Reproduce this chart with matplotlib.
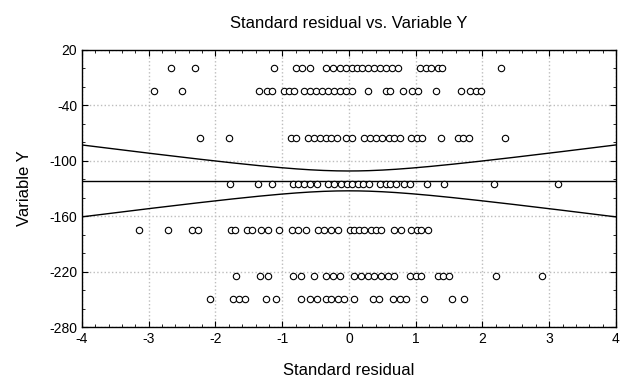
import numpy as np
import matplotlib
matplotlib.use("Agg")
import matplotlib.pyplot as plt
from matplotlib.ticker import MultipleLocator

plt.rcParams["font.family"] = ["Liberation Sans", "DejaVu Sans"]
plt.rcParams["axes.unicode_minus"] = False

y_levels = [0, -25, -75, -125, -175, -225, -250]
resid_0 = [-2.66, -2.31, -1.13, -0.79, -0.70, -0.59, -0.34, -0.24, -0.14, -0.05,
           0.04, 0.12, 0.20, 0.29, 0.38, 0.47, 0.56, 0.65, 0.73, 1.06, 1.15,
           1.23, 1.33, 1.40, 2.28]
resid_25 = [-2.92, -2.50, -1.35, -1.23, -1.15, -0.98, -0.90, -0.83, -0.67, -0.59,
            -0.49, -0.40, -0.32, -0.23, -0.14, -0.05, 0.04, 0.28, 0.55, 0.62,
            0.81, 0.94, 1.03, 1.31, 1.68, 1.82, 1.90, 1.98]
resid_75 = [-2.23, -1.80, -0.87, -0.79, -0.62, -0.52, -0.44, -0.35, -0.27, -0.18,
            -0.04, 0.05, 0.22, 0.31, 0.41, 0.50, 0.60, 0.68, 0.77, 0.93, 1.02,
            1.10, 1.38, 1.63, 1.71, 1.80, 2.34]
resid_125 = [-1.78, -1.37, -1.16, -0.84, -0.76, -0.68, -0.59, -0.48, -0.32, -0.22,
             -0.12, -0.03, 0.05, 0.13, 0.21, 0.30, 0.46, 0.55, 0.62, 0.70, 0.83,
             0.91, 1.17, 1.43, 2.17, 3.13]
resid_175 = [-3.15, -2.71, -2.35, -2.26, -1.76, -1.70, -1.52, -1.45, -1.32, -1.22,
             -1.05, -0.86, -0.76, -0.64, -0.47, -0.37, -0.27, -0.17, 0.01, 0.08,
             0.15, 0.23, 0.33, 0.41, 0.48, 0.68, 0.78, 0.93, 1.02, 1.08, 1.18]
resid_225 = [-1.69, -1.34, -1.22, -0.84, -0.72, -0.52, -0.34, -0.24, -0.13, 0.08,
             0.18, 0.28, 0.38, 0.48, 0.58, 0.68, 0.91, 1.00, 1.08, 1.33, 1.41,
             1.50, 2.20, 2.90]
resid_250 = [-2.08, -1.74, -1.65, -1.55, -1.25, -1.09, -0.72, -0.59, -0.48, -0.34,
             -0.27, -0.17, -0.07, 0.08, 0.36, 0.45, 0.66, 0.76, 0.86, 1.13, 1.55,
             1.72]
resid_rows = [resid_0, resid_25, resid_75, resid_125, resid_175, resid_225, resid_250]

# fitted line in the chart is flat (slope read as 0); band looks like a 90% one
fit_slope = 0.0
t_crit = 1.653

x_ticks = [-4, -3, -2, -1, 0, 1, 2, 3, 4]
y_ticks = [20, -40, -100, -160, -220, -280]

x = np.concatenate([np.array(r, dtype=float) for r in resid_rows])
y = np.concatenate([np.full(len(r), lv, dtype=float) for r, lv in zip(resid_rows, y_levels)])

# line through the means with its confidence band
n = len(x)
intercept = y.mean() - fit_slope * x.mean()
fit_res = y - (intercept + fit_slope * x)
s = np.sqrt(np.sum(fit_res ** 2) / (n - 2))
sxx = np.sum((x - x.mean()) ** 2)
xs = np.linspace(-4, 4, 200)
yhat = intercept + fit_slope * xs
half = t_crit * s * np.sqrt(1.0 / n + (xs - x.mean()) ** 2 / sxx)

fig = plt.figure(figsize=(6.33, 3.83), dpi=100)
ax = fig.add_axes([0.1295, 0.146, 0.8435, 0.724])

ax.plot(xs, yhat, color="black", lw=1.0)
ax.plot(xs, yhat + half, color="black", lw=1.0)
ax.plot(xs, yhat - half, color="black", lw=1.0)
ax.plot(x, y, linestyle="none", marker="o", markersize=4.6,
        markerfacecolor="white", markeredgecolor="black", markeredgewidth=0.8)

ax.set_xlim(-4, 4)
ax.set_ylim(-280, 20)
ax.set_xticks(x_ticks)
ax.set_yticks(y_ticks)
ax.xaxis.set_minor_locator(MultipleLocator(0.2))
ax.yaxis.set_minor_locator(MultipleLocator(20))
ax.tick_params(which="both", direction="in", top=True, right=True, labelsize=10)
ax.tick_params(which="major", length=4)
ax.tick_params(which="minor", length=2)
ax.grid(True, which="major", color="#bdbdbd", linestyle=":", linewidth=1.0)
for sp in ax.spines.values():
    sp.set_linewidth(1.0)

ax.set_title("Standard residual vs. Variable Y", fontsize=12, pad=16)
ax.set_xlabel("Standard residual", fontsize=12, labelpad=12)
ax.set_ylabel("Variable Y", fontsize=12, labelpad=12)

fig.savefig("out.png", dpi=100)
